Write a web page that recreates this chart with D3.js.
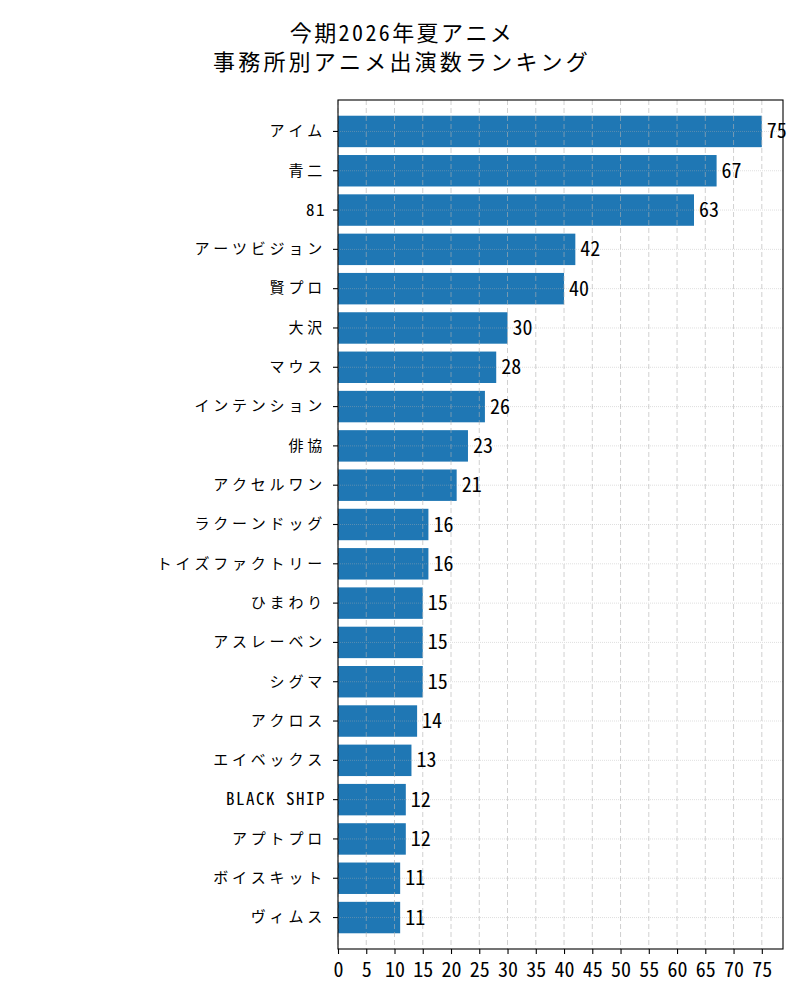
<!DOCTYPE html>
<html>
<head>
<meta charset="utf-8">
<script src="https://cdn.jsdelivr.net/npm/d3@7"></script>
<style>
  body { margin: 0; background: #fff; }
  text { font-family: "Noto Sans Mono CJK JP", "Noto Sans CJK JP", sans-serif; }
</style>
</head>
<body>
<div id="chart"></div>
<script>
// data
const agencies = ["アイム", "青二", "81", "アーツビジョン", "賢プロ", "大沢", "マウス", "インテンション", "俳協", "アクセルワン",
  "ラクーンドッグ", "トイズファクトリー", "ひまわり", "アスレーベン", "シグマ", "アクロス", "エイベックス", "BLACK SHIP", "アプトプロ", "ボイスキット", "ヴィムス"];
const counts = [75, 67, 63, 42, 40, 30, 28, 26, 23, 21, 16, 16, 15, 15, 15, 14, 13, 12, 12, 11, 11];
const xTicks = [0, 5, 10, 15, 20, 25, 30, 35, 40, 45, 50, 55, 60, 65, 70, 75];
const titleLines = ["今期2026年夏アニメ", "事務所別アニメ出演数ランキング"];

const W = 800, H = 1000;
const margin = {top: 100, right: 17, bottom: 51, left: 338};
const width = W - margin.left - margin.right;
const height = H - margin.top - margin.bottom;

const svg = d3.select('#chart').append('svg')
  .attr('width', W)
  .attr('height', H);

// title (centered on figure)
svg.append('g').selectAll('text')
  .data(titleLines)
  .enter()
  .append('text')
    .attr('x', W / 2 + 2)
    .attr('y', (d, i) => 41 + i * 29)
    .attr('text-anchor', 'middle')
    .style('font-size', '22px')
    .style('letter-spacing', (d, i) => i == 0 ? '2.4px' : '3.2px')
    .text(d => d);

const g = svg.append('g')
  .attr('transform', 'translate(' + margin.left + ',' + margin.top + ')');

const x = d3.scaleLinear()
  .domain([0, d3.max(counts) * 1.05])
  .range([0, width]);

const y = d3.scaleBand()
  .domain(agencies)
  .range([0, height])
  .paddingInner(0.2)
  .paddingOuter(0.4);

// bars
g.append('g').selectAll('rect')
  .data(agencies)
  .enter()
  .append('rect')
    .attr('x', 0)
    .attr('y', d => y(d))
    .attr('width', (d, i) => x(counts[i]))
    .attr('height', y.bandwidth())
    .style('fill', '#1f77b4');

// grid over bars
g.append('g').selectAll('line')
  .data(xTicks)
  .enter()
  .append('line')
    .attr('x1', d => x(d)).attr('x2', d => x(d))
    .attr('y1', 0).attr('y2', height)
    .style('stroke', '#b0b0b0')
    .style('stroke-opacity', 0.6)
    .style('stroke-width', 1)
    .style('stroke-dasharray', '5,3');

g.append('g').selectAll('line')
  .data(agencies)
  .enter()
  .append('line')
    .attr('x1', 0).attr('x2', width)
    .attr('y1', d => y(d) + y.bandwidth() / 2)
    .attr('y2', d => y(d) + y.bandwidth() / 2)
    .style('stroke', '#b0b0b0')
    .style('stroke-opacity', 0.4)
    .style('stroke-width', 1)
    .style('stroke-dasharray', '1,1');

// value labels
g.append('g').selectAll('text')
  .data(agencies)
  .enter()
  .append('text')
    .attr('x', (d, i) => x(counts[i]) + 5)
    .attr('y', d => y(d) + y.bandwidth() / 2)
    .attr('dy', '0.35em')
    .style('font-size', '20px')
    .style('font-weight', 300)
    .text((d, i) => counts[i]);

// axes
const xAxis = g.append('g')
  .attr('transform', 'translate(0,' + height + ')')
  .call(d3.axisBottom(x).tickValues(xTicks).tickSize(5).tickPadding(9));
xAxis.selectAll('text').style('font-size', '20px').style('font-weight', 300).attr('fill', '#000');

const yAxis = g.append('g')
  .call(d3.axisLeft(y).tickSize(5).tickPadding(7));
yAxis.selectAll('text')
  .style('font-size', d => /^[\x00-\x7F]+$/.test(d) ? '17px' : '15px')
  .style('letter-spacing', d => /^[\x00-\x7F]+$/.test(d) ? '1.5px' : '3.8px')
  .attr('fill', '#000');

[xAxis, yAxis].forEach(a => {
  a.select('.domain').remove();
  a.selectAll('line').style('stroke', '#000').style('stroke-width', 1.1);
});

// frame
g.append('rect')
  .attr('width', width)
  .attr('height', height)
  .style('fill', 'none')
  .style('stroke', '#000')
  .style('stroke-width', 1.1);
</script>
</body>
</html>
